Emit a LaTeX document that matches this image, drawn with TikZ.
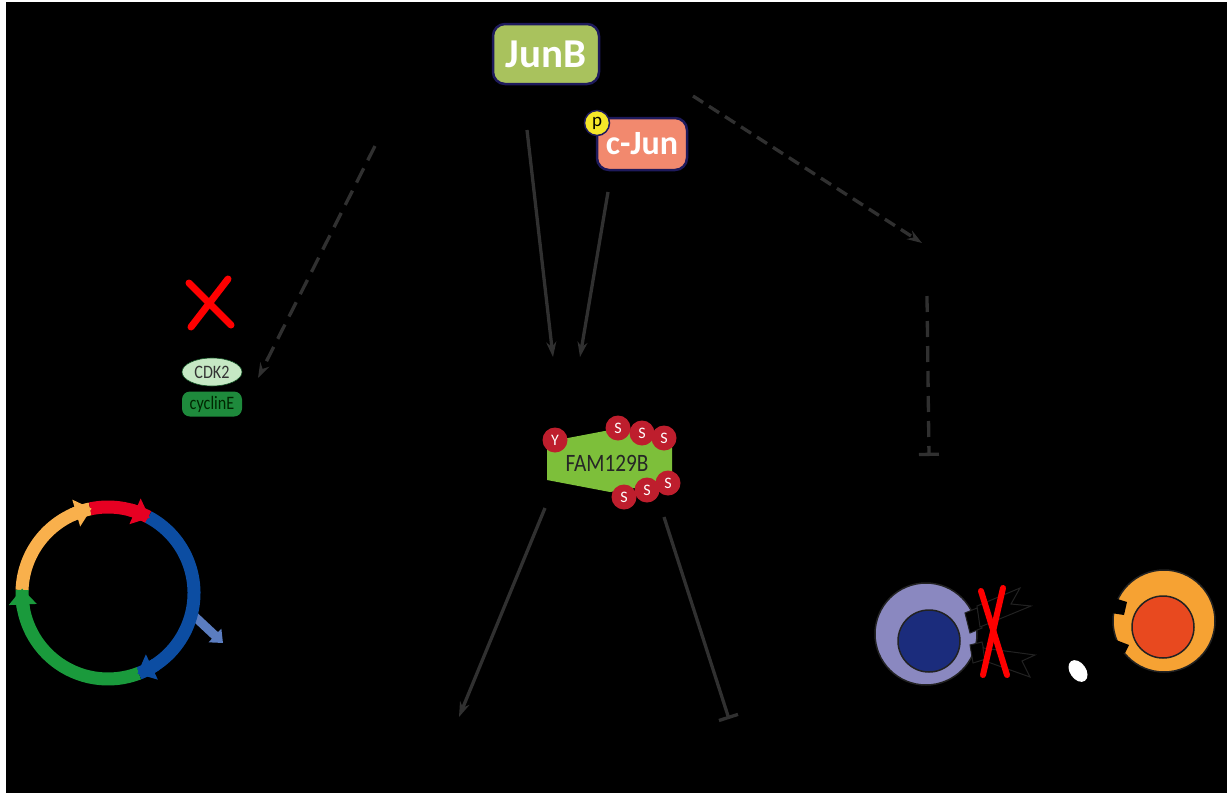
\documentclass[tikz,border=0pt]{standalone}
\usepackage{fontspec}
\setmainfont{Carlito}
\usetikzlibrary{arrows.meta,bending,shapes.geometric}

\definecolor{navyrim}{HTML}{1E1A5C}
\definecolor{junbgreen}{HTML}{A9C25D}
\definecolor{cjunsalmon}{HTML}{F2896E}
\definecolor{phosyellow}{HTML}{F5E629}
\definecolor{cdklight}{HTML}{C6E8C4}
\definecolor{cyclingreen}{HTML}{1E8A3C}
\definecolor{famgreen}{HTML}{7DBF3A}
\definecolor{phosred}{HTML}{BE1E2D}
\definecolor{wire}{HTML}{303030}
\definecolor{ringyellow}{HTML}{F9B04C}
\definecolor{ringred}{HTML}{E60022}
\definecolor{ringblue}{HTML}{0C4DA2}
\definecolor{ringgreen}{HTML}{1A9A3C}
\definecolor{exitblue}{HTML}{5B7DC0}
\definecolor{lavender}{HTML}{8A88C0}
\definecolor{nucblue}{HTML}{1B2C7C}
\definecolor{cellorange}{HTML}{F6A233}
\definecolor{nucorange}{HTML}{E8491F}
\definecolor{rim}{HTML}{222222}

\tikzset{
  protein/.style={draw=navyrim, line width=2.5pt, rounded corners=12pt,
    text=white, inner sep=0pt},
  phos/.style={circle, fill=phosred, minimum size=25pt, inner sep=0pt,
    text=white, font=\fontsize{16}{16}\selectfont},
  wireline/.style={draw=wire, line width=3.3pt},
  actarrow/.style={wireline, -{Stealth[length=15pt,width=10pt]}},
  inhibit/.style={wireline, -{Bar[width=20pt,line width=3.3pt]}},
  longdash/.style={dash pattern=on 16pt off 9pt},
  shortdash/.style={dash pattern=on 12pt off 7pt},
  redcross/.style={draw=red, line width=7pt, line cap=round},
  ring/.style={line width=13pt},
  ringtip/.style={ring, -{Triangle[width=27pt,length=16pt]}},
  notch/.style={fill=black, draw=rim, line width=1pt}
}

\begin{document}
\begin{tikzpicture}[x=1pt, y=-1pt]
  % page frame: thin white edge, black canvas
  \fill[white] (0,0) rectangle (1227,793);
  \fill[black] (6,2) rectangle (1227,793);
  \useasboundingbox (0,0) rectangle (1227,793);

  % ---- transcription factors ----
  \node[protein, fill=junbgreen, minimum width=106pt, minimum height=60pt,
        font=\bfseries\fontsize{41}{41}\selectfont] (junb) at (546,54) {JunB};
  \node[protein, fill=cjunsalmon, minimum width=90pt, minimum height=52pt,
        font=\bfseries\fontsize{34}{34}\selectfont] (cjun) at (642,144) {c-Jun};
  \node[circle, fill=phosyellow, draw=navyrim, line width=1.5pt, minimum size=25pt,
        inner sep=0pt, font=\fontsize{19}{19}\selectfont] (pcjun) at (597,123) {p};

  % ---- CDK2 / cyclinE ----
  \node[ellipse, fill=cdklight, draw=cyclingreen!60!black, line width=0.6pt,
        minimum width=60pt, minimum height=28pt, inner sep=0pt, text=black!80,
        font=\fontsize{19}{19}\selectfont] (cdk2) at (212,372) {\scalebox{0.85}[1]{CDK2}};
  \node[rounded corners=8pt, fill=cyclingreen, minimum width=60pt, minimum height=25pt,
        inner sep=0pt, text=black!85!green, font=\fontsize{19}{19}\selectfont]
        (cycline) at (212,404) {\scalebox{0.85}[1]{cyclinE}};
  \draw[redcross] (189,283) -- (231,325);
  \draw[redcross] (228,279) -- (191,327);

  % ---- FAM129B with phospho sites ----
  \draw[fill=famgreen, draw=none] (547,442) -- (610,430) -- (672,432) -- (672,482)
        -- (610,492) -- (547,480) -- cycle;
  \node[text=black!85, font=\fontsize{25}{25}\selectfont] (fam) at (607,463)
        {\scalebox{0.85}[1]{FAM129B}};
  \node[phos] (py) at (555,440) {Y};
  \node[phos] (s1) at (618,428) {S};
  \node[phos] (s2) at (642,433) {S};
  \node[phos] (s3) at (664,438) {S};
  \node[phos] (s4) at (668,483) {S};
  \node[phos] (s5) at (647,490) {S};
  \node[phos] (s6) at (624,497) {S};

  % ---- connector end points ----
  \coordinate (jbOut)  at (527,130);
  \coordinate (jbIn)   at (553,357);
  \coordinate (cjOut)  at (608,192);
  \coordinate (cjIn)   at (580,357);
  \coordinate (cdkSrc) at (375,146);
  \coordinate (cdkTgt) at (258,378);
  \coordinate (rSrc)   at (693,96);
  \coordinate (rTgt)   at (922,243);
  \coordinate (vSrc)   at (927,296);
  \coordinate (vTgt)   at (929,456);
  \coordinate (fOutL)  at (545,508);
  \coordinate (fTgtL)  at (459,717);
  \coordinate (fOutR)  at (664,517);
  \coordinate (fTgtR)  at (729,719);

  \draw[actarrow] (jbOut) -- (jbIn);
  \draw[actarrow] (cjOut) -- (cjIn);
  \draw[actarrow, longdash] (cdkSrc) -- (cdkTgt);
  \draw[actarrow, shortdash] (rSrc) -- (rTgt);
  \draw[inhibit, longdash] (vSrc) -- (vTgt);
  \draw[actarrow] (fOutL) -- (fTgtL);
  \draw[inhibit] (fOutR) -- (fTgtR);

  % ---- cell cycle wheel ----
  \coordinate (cc) at (108,593);
  \draw[exitblue, line width=9pt, -{Triangle[width=18pt,length=11pt]}]
        (192,614) -- (223,643);
  \draw[ring, ringyellow] (cc) ++(-178:86) arc[start angle=-178, end angle=-102, radius=86];
  \draw[ring, ringred]    (cc) ++(-102:86) arc[start angle=-102, end angle=-62, radius=86];
  \draw[ring, ringblue]   (cc) ++(-62:86)  arc[start angle=-62, end angle=69, radius=86];
  \draw[ring, ringgreen]  (cc) ++(69:86)   arc[start angle=69, end angle=182, radius=86];
  \draw[ringtip, ringyellow] (cc) ++(-115:86) arc[start angle=-115, end angle=-101, radius=86];
  \draw[ringtip, ringred]    (cc) ++(-75:86)  arc[start angle=-75, end angle=-61, radius=86];
  \draw[ringtip, ringblue]   (cc) ++(56:86)   arc[start angle=56, end angle=70, radius=86];
  \draw[ringtip, ringgreen]  (cc) ++(169:86)  arc[start angle=169, end angle=183, radius=86];

  % ---- immune cell (left) ----
  \draw[fill=lavender, draw=rim, line width=1.5pt] (926,634) ellipse[x radius=51, y radius=51];
  \draw[fill=nucblue, draw=rim, line width=1.5pt] (929,641) circle[radius=31];
  \draw[notch] (965,613) -- (977,608) -- (982,628) -- (970,633) -- cycle;
  \draw[notch] (970,645) -- (982,642) -- (986,659) -- (973,663) -- cycle;
  % jagged signals
  \draw[notch] (977,606) -- (1020,588) -- (1011,604) -- (1031,606) -- (980,627) -- cycle;
  \draw[notch] (983,648) -- (1035,655) -- (1022,661) -- (1030,677) -- (985,661) -- cycle;
  \draw[redcross, line width=6pt] (981,591) -- (1007,675);
  \draw[redcross, line width=6pt] (1003,588) -- (983,675);

  % ---- white fragment ----
  \fill[white, rotate around={35:(1078,671)}] (1078,671) ellipse[x radius=8, y radius=12];

  % ---- target cell (right) ----
  \draw[fill=cellorange, draw=rim, line width=1.5pt] (1164,621) circle[radius=51];
  \draw[notch, draw=none] (1111,597) -- (1127,602) -- (1124,615) -- (1111,613) -- cycle;
  \draw[notch, draw=none] (1111,638) -- (1129,645) -- (1125,653) -- (1111,651) -- cycle;
  \draw[fill=nucorange, draw=rim, line width=1.5pt] (1163,627) circle[radius=31];
\end{tikzpicture}
\end{document}
